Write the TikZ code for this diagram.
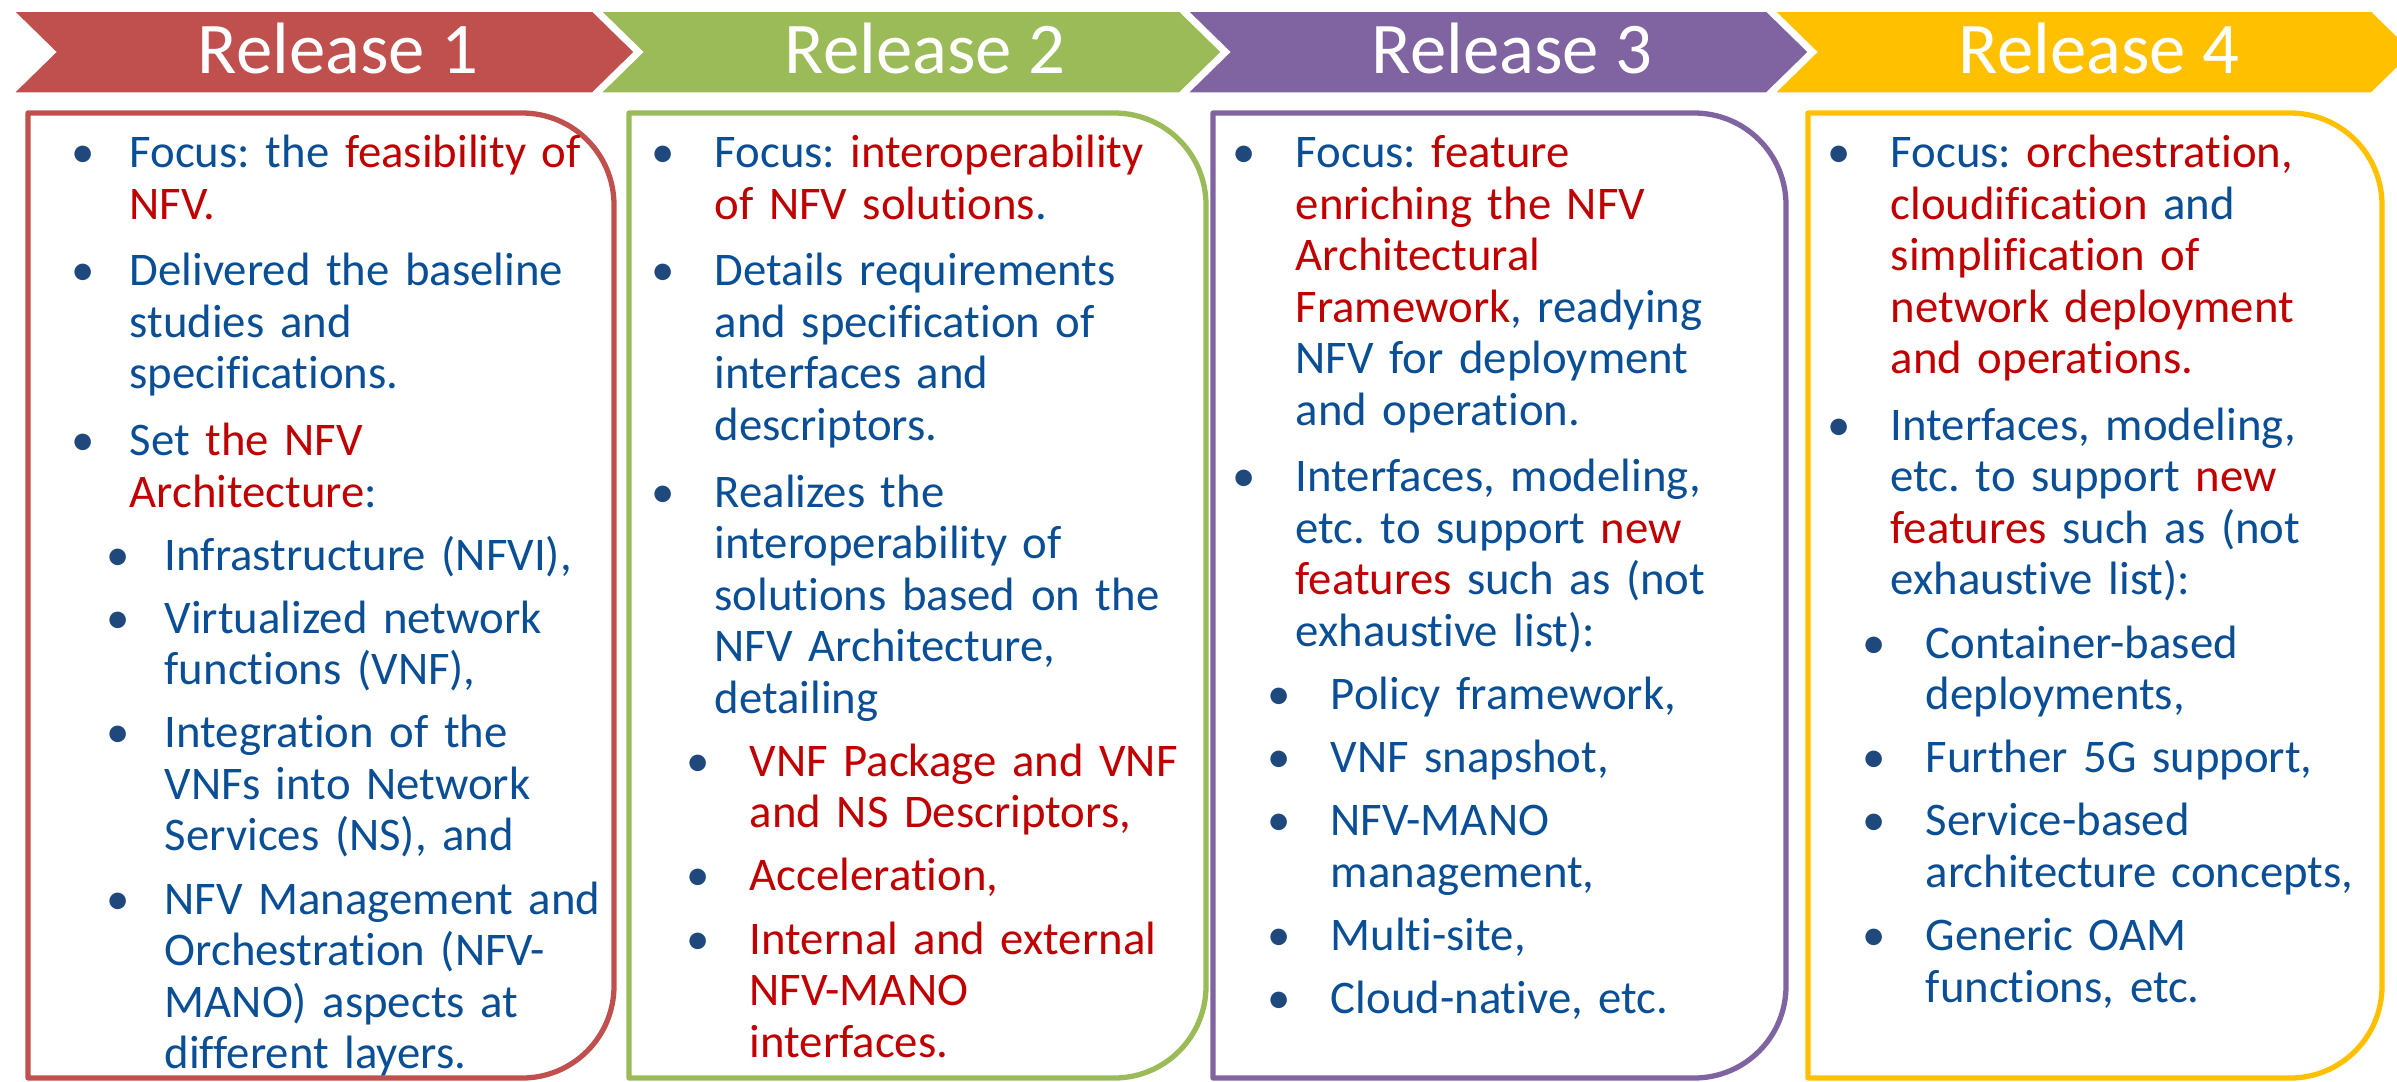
\documentclass[tikz,border=0pt]{standalone}
\usepackage{fontspec}
\setmainfont{Carlito}[Ligatures=NoCommon]
\frenchspacing

\definecolor{relred}{HTML}{C0504D}
\definecolor{relgreen}{HTML}{9BBB59}
\definecolor{relpurple}{HTML}{8064A2}
\definecolor{relyellow}{HTML}{FFC000}
\definecolor{txtblue}{HTML}{0A4F96}
\definecolor{txtred}{HTML}{C00000}
\definecolor{bulblue}{HTML}{1F497D}

\newcommand{\rd}[1]{\textcolor{txtred}{#1}}
\newlength{\bulsep}
\setlength{\bulsep}{0.52cm}
\newcommand{\bul}{\llap{\makebox[0pt]{\textcolor{bulblue}{•}}\hspace{\bulsep}}}
\newcommand{\itemfirst}[1]{\noindent\bul\rule{0pt}{12pt}#1\par}
\newcommand{\itemone}[1]{\vspace{4.3pt}\noindent\bul #1\par}
\newcommand{\itemtwo}[1]{\vspace{3.3pt}{\leftskip=0.35cm\noindent\bul #1\par}}

\begin{document}
\begin{tikzpicture}[x=0.01cm, y=-0.01cm,
        relbox/.style={line width=1.5pt, line join=round},
        reltitle/.style={anchor=base, inner sep=0, text=white,
            font=\fontsize{20.7pt}{24pt}\selectfont},
        reltext/.style={anchor=north west, inner sep=0, text width=5.1cm,
            align=left, text=txtblue,
            font=\fontsize{13.3pt}{14.65pt}\selectfont}]
    \useasboundingbox (0,0) rectangle (2397,1081);
    % release arrows
    \foreach \L/\R/\col/\n in {11/593/relred/1, 598/1180/relgreen/2,
            1185/1767/relpurple/3, 1772/2372/relyellow/4} {
        \fill[\col, draw=white, line width=1pt] (\L,10) -- (\R,10) -- (\R+43,52)
            -- (\R,94) -- (\L,94) -- (\L+43,52) -- cycle;
        \node[reltitle] (rel\n) at (\L+327,73) {Release \n};
    }
    % boxes
    \foreach \L/\R/\col in {28/614/relred, 629/1206/relgreen,
            1213/1786/relpurple, 1808/2382/relyellow}
        \draw[\col, relbox] (\L,1078) -- (\L,113) -- (\R-92,113)
            .. controls (\R-41,113) and (\R,154) .. (\R,205) -- (\R,986)
            .. controls (\R,1037) and (\R-41,1078) .. (\R-92,1078) -- cycle;

    \node[reltext] (rel1text) at (129,124.8) {\setlength{\bulsep}{0.47cm}%
        \itemfirst{Focus: the \rd{feasibility of}\\\rd{NFV.}}
        \itemone{Delivered the baseline\\studies and\\specifications.}
        \itemone{Set \rd{the NFV}\\\rd{Architecture}:}
        \itemtwo{Infrastructure (NFVI),}
        \itemtwo{Virtualized network\\functions (VNF),}
        \itemtwo{Integration of the\\VNFs into Network\\Services (NS), and}
        \itemtwo{NFV Management and\\Orchestration (NFV-\\MANO) aspects at\\different layers.}};
    \node[reltext] (rel2text) at (714,124.8) {%
        \itemfirst{Focus: \rd{interoperability}\\\rd{of NFV solutions}.}
        \itemone{Details requirements\\and specification of\\interfaces and\\descriptors.}
        \itemone{Realizes the\\interoperability of\\solutions based on the\\NFV Architecture,\\detailing}
        \itemtwo{\rd{VNF Package and VNF}\\\rd{and NS Descriptors,}}
        \itemtwo{\rd{Acceleration,}}
        \itemtwo{\rd{Internal and external}\\\rd{NFV-MANO}\\\rd{interfaces.}}};
    \node[reltext] (rel3text) at (1295,124.8) {%
        \itemfirst{Focus: \rd{feature}\\\rd{enriching the NFV}\\\rd{Architectural}\\\rd{Framework}, readying\\NFV for deployment\\and operation.}
        \itemone{Interfaces, modeling,\\etc. to support \rd{new}\\\rd{features} such as (not\\exhaustive list):}
        \itemtwo{Policy framework,}
        \itemtwo{VNF snapshot,}
        \itemtwo{NFV-MANO\\management,}
        \itemtwo{Multi-site,}
        \itemtwo{Cloud-native, etc.}};
    \node[reltext] (rel4text) at (1890,124.8) {%
        \itemfirst{Focus: \rd{orchestration,}\\\rd{cloudification} and\\\rd{simplification of}\\\rd{network deployment}\\\rd{and operations.}}
        \itemone{Interfaces, modeling,\\etc. to support \rd{new}\\\rd{features} such as (not\\exhaustive list):}
        \itemtwo{Container-based\\deployments,}
        \itemtwo{Further 5G support,}
        \itemtwo{Service-based\\architecture concepts,}
        \itemtwo{Generic OAM\\functions, etc.}};
\end{tikzpicture}
\end{document}
